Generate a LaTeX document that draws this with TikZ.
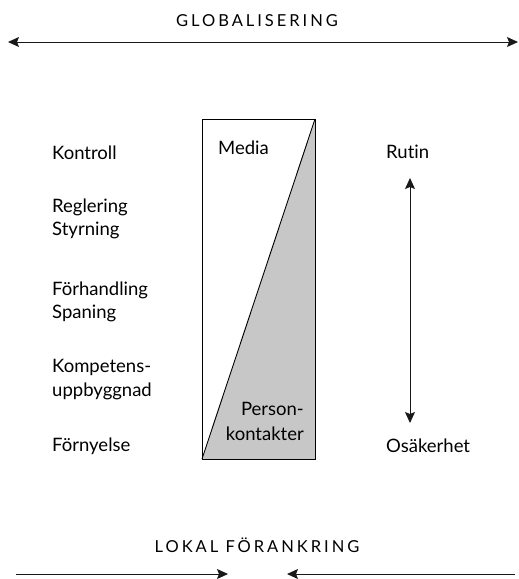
\documentclass[tikz,border=0pt]{standalone}
\usepackage{fontspec}
\setmainfont{Lato}[Ligatures=NoCommon]
\newfontfamily\capsfont[LetterSpace=18]{Lato}
\usetikzlibrary{arrows.meta}
\begin{document}
\begin{tikzpicture}[x=1pt,y=-1pt,
  lbl/.style={inner sep=0pt,font=\fontsize{18.5}{23}\selectfont,align=left},
  titletext/.style={inner sep=0pt,font=\capsfont\fontsize{16.5}{18}\selectfont},
  conn/.style={line width=1pt,draw=black!90},
  tp/.tip={Stealth[length=11pt,width=10pt,inset=2pt]}]
\useasboundingbox (0,0) rectangle (519,579);
% top
\node[titletext,anchor=base] (glob) at (257,26) {GLOBALISERING};
\coordinate (gl) at (8,42);
\coordinate (gr) at (518,42);
\draw[conn,tp-tp] (gl) -- (gr);
% box
\coordinate (tl) at (202,119);
\coordinate (tr) at (315,119);
\coordinate (br) at (315,459);
\coordinate (bl) at (202,459);
\fill[black!22] (tr) -- (br) -- (bl) -- cycle;
\draw[line width=0.9pt] (tl) rectangle (br);
\draw[line width=0.9pt] (tr) -- (bl);
\node[lbl,anchor=base west] (media) at (218,154) {Media};
\node[lbl,anchor=base east] (person) at (304,415) {Person-};
\node[lbl,anchor=base east] (kont) at (304,440) {kontakter};
% left labels
\node[lbl,anchor=base west] (kontroll) at (52,159) {Kontroll};
\node[lbl,anchor=base west] (regl) at (52,212) {Reglering};
\node[lbl,anchor=base west] (styr) at (52,235) {Styrning};
\node[lbl,anchor=base west] (forh) at (52,295) {Förhandling};
\node[lbl,anchor=base west] (span) at (52,318) {Spaning};
\node[lbl,anchor=base west] (komp) at (52,372) {Kompetens-};
\node[lbl,anchor=base west] (uppb) at (52,396) {uppbyggnad};
\node[lbl,anchor=base west] (forn) at (52,451) {Förnyelse};
% right
\node[lbl,anchor=base west] (rutin) at (386,158) {Rutin};
\node[lbl,anchor=base west] (osak) at (386,452) {Osäkerhet};
\coordinate (vt) at (410,178);
\coordinate (vb) at (410,423);
\draw[conn,tp-tp] (vt) -- (vb);
% bottom
\node[titletext,anchor=base] (lokal) at (257,552) {LOKAL FÖRANKRING};
\coordinate (bl1) at (16,574);
\coordinate (bl2) at (228,574);
\coordinate (br1) at (515,574);
\coordinate (br2) at (287,574);
\draw[conn,-tp] (bl1) -- (bl2);
\draw[conn,-tp] (br1) -- (br2);
\end{tikzpicture}
\end{document}
